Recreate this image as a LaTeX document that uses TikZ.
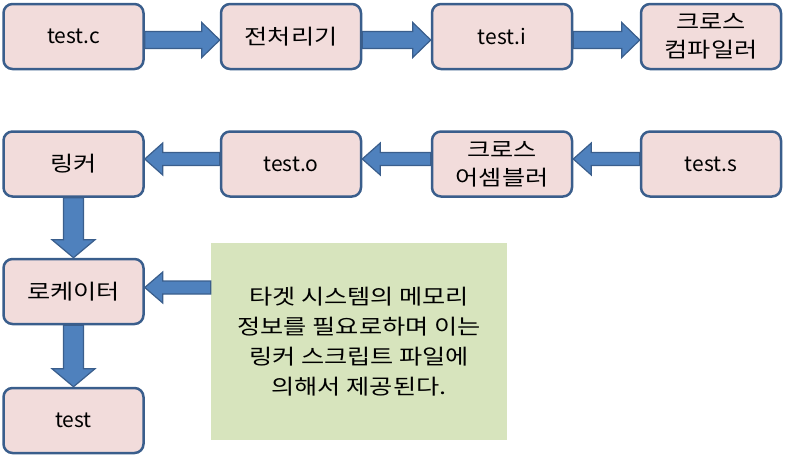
\documentclass[tikz,border=0pt]{standalone}
\usepackage{fontspec}
\setmainfont{Noto Sans CJK KR}
\newfontfamily\kr[FakeStretch=1.2]{Noto Sans CJK KR}
\usetikzlibrary{calc}
\definecolor{boxpink}{HTML}{F2DCDB}
\definecolor{boxline}{HTML}{3A5E8C}
\definecolor{arrblue}{HTML}{4F81BD}
\definecolor{notegreen}{HTML}{D7E4BD}
% block arrow: [shift]{half shaft}{half head}{from}{to}
\newcommand{\barr}[5][yshift=0pt]{%
	\path ([#1]#4) coordinate (ba) ([#1]#5) coordinate (bb);
	\path ($(bb)!18pt!(ba)$) coordinate (bh);
	\draw[arr] ($(ba)!#2pt!90:(bb)$) -- ($(bh)!#2pt!90:(bb)$) -- ($(bh)!#3pt!90:(bb)$) -- (bb)
		-- ($(bh)!#3pt!-90:(bb)$) -- ($(bh)!#2pt!-90:(bb)$) -- ($(ba)!#2pt!-90:(bb)$) -- cycle;}
\begin{document}
\begin{tikzpicture}[x=1pt,y=-1pt, font=\fontsize{21}{28}\selectfont, line join=round,
	stage/.style={draw=boxline, fill=boxpink, line width=2.5pt, rounded corners=9pt,
		minimum width=140pt, minimum height=65pt, inner sep=0pt, align=center},
	kr/.style={font=\fontsize{21}{28}\kr},
	notebox/.style={fill=notegreen, minimum width=296pt, minimum height=197pt,
		inner sep=0pt, align=center, font=\fontsize{21}{30}\kr},
	arr/.style={draw=boxline, fill=arrblue, line width=1.2pt, line join=miter}]
	\def\xa{73.5} \def\xb{291} \def\xc{502} \def\xd{711}
	\useasboundingbox (0,0) rectangle (785,456);
	% first row
	\node[stage] (tc) at (\xa,36.5) {test.c};
	\node[stage,kr] (pp) at (\xb,36.5) {전처리기};
	\node[stage] (ti) at (\xc,36.5) {test.i};
	\node[stage,kr] (cc) at (\xd,36.5) {크로스\\컴파일러};
	% second row
	\node[stage,kr] (lk) at (\xa,164) {링커};
	\node[stage] (to) at (\xb,164) {test.o};
	\node[stage,kr] (as) at (\xc,164) {크로스\\어셈블러};
	\node[stage] (ts) at (\xd,164) {test.s};
	% left column
	\node[stage,kr] (lc) at (\xa,291.5) {로케이터};
	\node[stage] (te) at (\xa,420.5) {test};
	\node[notebox] (memo) at (359,341.5) {타겟 시스템의 메모리\\정보를 필요로하며 이는\\링커 스크립트 파일에\\의해서 제공된다.};
	% arrows
	\barr[yshift=-3.5pt]{8.5}{17.5}{tc.east}{pp.west}
	\barr[yshift=-3.5pt]{8.5}{17.5}{pp.east}{ti.west}
	\barr[yshift=-3.5pt]{8.5}{17.5}{ti.east}{cc.west}
	\barr[yshift=5pt]{6.5}{16}{ts.west}{as.east}
	\barr[yshift=5pt]{6.5}{16}{as.west}{to.east}
	\barr[yshift=5pt]{6.5}{16}{to.west}{lk.east}
	\barr{10}{21.5}{lk.south}{lc.north}
	\barr{10}{21.5}{lc.south}{te.north}
	\barr[yshift=4pt]{6.5}{15.5}{memo.west |- lc.east}{lc.east}
\end{tikzpicture}
\end{document}
